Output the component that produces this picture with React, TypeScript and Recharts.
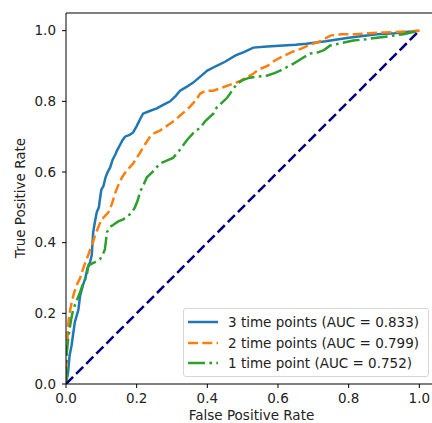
import React from 'react';
import { LineChart, Line, XAxis, YAxis, ReferenceLine, Label } from 'recharts';

// ROC points: [false positive rate, true positive rate]
const roc3: [number, number][] = [
  [0, 0], [0.006, 0.034], [0.01, 0.08], [0.016, 0.11], [0.02, 0.14], [0.025, 0.175], [0.035, 0.21],
  [0.04, 0.25], [0.048, 0.28], [0.055, 0.3], [0.06, 0.325], [0.068, 0.345], [0.073, 0.365], [0.075, 0.4],
  [0.077, 0.43], [0.082, 0.46], [0.087, 0.486], [0.093, 0.5], [0.097, 0.53], [0.1, 0.55], [0.106, 0.56],
  [0.112, 0.585], [0.118, 0.6], [0.125, 0.613], [0.132, 0.635], [0.14, 0.65], [0.144, 0.66], [0.152, 0.675],
  [0.16, 0.69], [0.167, 0.7], [0.18, 0.705], [0.19, 0.712], [0.2, 0.73], [0.21, 0.75], [0.218, 0.765],
  [0.235, 0.772], [0.257, 0.78], [0.275, 0.79], [0.295, 0.8], [0.31, 0.815], [0.323, 0.83], [0.34, 0.84],
  [0.36, 0.853], [0.38, 0.87], [0.4, 0.887], [0.425, 0.9], [0.45, 0.912], [0.48, 0.93], [0.505, 0.94],
  [0.53, 0.952], [0.57, 0.955], [0.615, 0.958], [0.65, 0.96], [0.68, 0.963], [0.735, 0.97], [0.8, 0.98],
  [0.84, 0.985], [0.88, 0.99], [0.93, 0.993], [0.97, 0.997], [1, 1],
];

const roc2: [number, number][] = [
  [0, 0], [0.002, 0.08], [0.006, 0.167], [0.01, 0.2], [0.016, 0.23], [0.022, 0.255], [0.03, 0.28],
  [0.04, 0.3], [0.048, 0.325], [0.055, 0.345], [0.063, 0.365], [0.07, 0.385], [0.076, 0.4], [0.082, 0.42],
  [0.09, 0.44], [0.1, 0.465], [0.11, 0.475], [0.12, 0.486], [0.13, 0.51], [0.139, 0.54], [0.145, 0.555],
  [0.153, 0.575], [0.162, 0.59], [0.172, 0.604], [0.182, 0.615], [0.19, 0.624], [0.2, 0.64], [0.21, 0.655],
  [0.218, 0.67], [0.228, 0.685], [0.238, 0.7], [0.25, 0.71], [0.266, 0.717], [0.28, 0.727], [0.295, 0.737],
  [0.31, 0.748], [0.323, 0.76], [0.335, 0.77], [0.351, 0.785], [0.365, 0.8], [0.38, 0.822], [0.395, 0.83],
  [0.417, 0.83], [0.445, 0.84], [0.473, 0.85], [0.49, 0.856], [0.51, 0.867], [0.53, 0.878], [0.545, 0.89],
  [0.57, 0.9], [0.59, 0.915], [0.615, 0.928], [0.64, 0.94], [0.663, 0.948], [0.69, 0.96], [0.72, 0.97],
  [0.748, 0.986], [0.78, 0.99], [0.82, 0.99], [0.86, 0.993], [0.9, 0.995], [0.95, 0.997], [1, 1],
];

const roc1: [number, number][] = [
  [0, 0], [0.002, 0.09], [0.006, 0.125], [0.01, 0.155], [0.015, 0.185], [0.02, 0.21], [0.03, 0.235],
  [0.04, 0.26], [0.047, 0.28], [0.054, 0.295], [0.06, 0.315], [0.063, 0.335], [0.072, 0.34], [0.082, 0.345],
  [0.096, 0.353], [0.103, 0.365], [0.11, 0.38], [0.113, 0.405], [0.116, 0.43], [0.125, 0.445], [0.133, 0.45],
  [0.148, 0.46], [0.162, 0.466], [0.175, 0.475], [0.187, 0.486], [0.195, 0.5], [0.203, 0.52], [0.21, 0.545],
  [0.22, 0.565], [0.229, 0.585], [0.245, 0.6], [0.266, 0.624], [0.285, 0.632], [0.303, 0.64], [0.32, 0.66],
  [0.342, 0.69], [0.36, 0.71], [0.38, 0.726], [0.395, 0.745], [0.417, 0.765], [0.427, 0.783], [0.44, 0.795],
  [0.456, 0.81], [0.47, 0.83], [0.484, 0.85], [0.5, 0.86], [0.52, 0.867], [0.545, 0.87], [0.57, 0.873],
  [0.59, 0.88], [0.606, 0.887], [0.625, 0.897], [0.643, 0.906], [0.672, 0.924], [0.69, 0.935], [0.711, 0.938],
  [0.73, 0.945], [0.748, 0.958], [0.78, 0.965], [0.813, 0.972], [0.85, 0.976], [0.88, 0.98], [0.92, 0.985],
  [0.955, 0.99], [1, 1],
];

const chance: [number, number][] = [[0, 0], [1, 1]];

const axisTicks = [0, 0.2, 0.4, 0.6, 0.8, 1.0];

const seriesNames = [
  '3 time points (AUC = 0.833)',
  '2 time points (AUC = 0.799)',
  '1 time point (AUC = 0.752)',
];

const FONT = '"DejaVu Sans", sans-serif';
const BLUE = '#1f77b4';
const ORANGE = '#ff7f0e';
const GREEN = '#2ca02c';
const DASH = '10 4.3';
const DASHDOT = '17 4.3 2.7 4.3';

const toPoints = (pts: [number, number][]) => pts.map(([x, y]) => ({ x, y }));

const legendRows = [
  { name: seriesNames[0], color: BLUE, dash: undefined },
  { name: seriesNames[1], color: ORANGE, dash: DASH },
  { name: seriesNames[2], color: GREEN, dash: DASHDOT },
];

// matplotlib-style legend box, laid over the plot's lower right
const LegendBox = () => (
  <div
    style={{
      position: 'absolute',
      left: 183,
      top: 308,
      width: 246,
      height: 69,
      boxSizing: 'border-box',
      border: '1px solid #d6d6d6',
      borderRadius: 3,
      background: 'rgba(255,255,255,0.85)',
      fontFamily: FONT,
      fontSize: 13.5,
      lineHeight: '16px',
      color: '#222',
      paddingTop: 3,
    }}
  >
    {legendRows.map((r) => (
      <div key={r.name} style={{ display: 'flex', alignItems: 'center', height: 20.5 }}>
        <svg width={44} height={10} style={{ flex: 'none' }}>
          <line x1={4} y1={5} x2={34} y2={5} stroke={r.color} strokeWidth={2.5} strokeDasharray={r.dash} />
        </svg>
        <span style={{ whiteSpace: 'nowrap' }}>{r.name}</span>
      </div>
    ))}
  </div>
);

const tickStyle = { fontFamily: FONT, fontSize: 13.5, fill: '#222' };

export default function App() {
  return (
    <div
      style={{
        position: 'absolute',
        left: 0,
        top: 0,
        width: 432,
        height: 423,
        overflow: 'hidden',
        background: '#fff',
      }}
    >
      <LineChart width={450} height={423} margin={{ top: 13, right: 13, bottom: 0, left: 0 }}>
        <XAxis
          type="number"
          dataKey="x"
          domain={[0, 1.05]}
          ticks={axisTicks}
          tickFormatter={(v: number) => v.toFixed(1)}
          allowDataOverflow
          height={39}
          tickSize={4}
          tickMargin={5}
          stroke="#000"
          tick={tickStyle}
        >
          <Label
            value="False Positive Rate"
            position="insideBottom"
            offset={3}
            style={{ fontFamily: FONT, fontSize: 13.5, fill: '#222' }}
          />
        </XAxis>
        <YAxis
          type="number"
          dataKey="y"
          domain={[0, 1.05]}
          ticks={axisTicks}
          tickFormatter={(v: number) => v.toFixed(1)}
          allowDataOverflow
          width={66}
          tickSize={4}
          tickMargin={6}
          stroke="#000"
          tick={tickStyle}
        >
          <Label
            content={() => (
              <text
                x={20}
                y={198}
                transform="rotate(-90 20 198)"
                textAnchor="middle"
                dominantBaseline="central"
                style={{ fontFamily: FONT, fontSize: 13.5, fill: '#222' }}
              >
                True Positive Rate
              </text>
            )}
          />
        </YAxis>
        <ReferenceLine y={1.05} stroke="#000" strokeWidth={1} />
        <Line
          data={toPoints(roc3)}
          dataKey="y"
          type="linear"
          stroke={BLUE}
          strokeWidth={2.5}
          dot={false}
          isAnimationActive={false}
        />
        <Line
          data={toPoints(roc2)}
          dataKey="y"
          type="linear"
          stroke={ORANGE}
          strokeWidth={2.5}
          strokeDasharray={DASH}
          dot={false}
          isAnimationActive={false}
        />
        <Line
          data={toPoints(roc1)}
          dataKey="y"
          type="linear"
          stroke={GREEN}
          strokeWidth={2.5}
          strokeDasharray={DASHDOT}
          dot={false}
          isAnimationActive={false}
        />
        <Line
          data={toPoints(chance)}
          dataKey="y"
          type="linear"
          stroke="#000080"
          strokeWidth={2.5}
          strokeDasharray={DASH}
          dot={false}
          isAnimationActive={false}
        />
      </LineChart>
      <LegendBox />
    </div>
  );
}
